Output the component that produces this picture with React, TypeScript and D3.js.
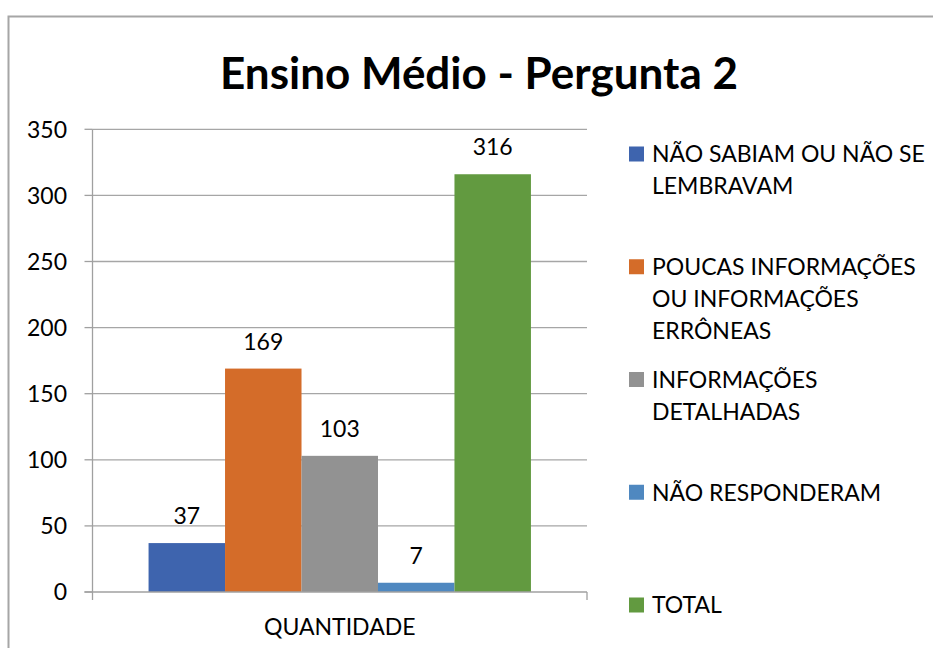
import React from "react";
import * as d3 from "d3";

const title = "Ensino Médio - Pergunta 2";
const category = "QUANTIDADE";
const seriesNames = [
  "NÃO SABIAM OU NÃO SE LEMBRAVAM",
  "POUCAS INFORMAÇÕES OU INFORMAÇÕES ERRÔNEAS",
  "INFORMAÇÕES DETALHADAS",
  "NÃO RESPONDERAM",
  "TOTAL",
];
const legendLines = [
  ["NÃO SABIAM OU NÃO SE", "LEMBRAVAM"],
  ["POUCAS INFORMAÇÕES", "OU INFORMAÇÕES", "ERRÔNEAS"],
  ["INFORMAÇÕES", "DETALHADAS"],
  ["NÃO RESPONDERAM"],
  ["TOTAL"],
];
const values = [37, 169, 103, 7, 316];
const colors = ["#3E64AE", "#D46C29", "#929292", "#4F88C0", "#629A40"];
const yTicks = [0, 50, 100, 150, 200, 250, 300, 350];

const W = 933;
const H = 648;
const FONT = "Lato, 'Open Sans', sans-serif";

export default function App() {
  const plotLeft = 92.5;
  const plotRight = 587;
  const plotTop = 129.3;
  const plotBottom = 592;

  const y = d3.scaleLinear().domain([0, 350]).range([plotBottom, plotTop]);
  const x0 = d3
    .scaleBand<string>()
    .domain([category])
    .range([plotLeft, plotRight])
    .paddingInner(0)
    .paddingOuter(0.1466);
  const x1 = d3
    .scaleBand<string>()
    .domain(seriesNames)
    .range([0, x0.bandwidth()])
    .padding(0);

  const legendY = d3.scaleLinear().domain([0, 4]).range([154, 605]);

  const grid = "#A6A6A6";
  const axis = "#A0A0A0";
  const fs = 23;

  return (
    <svg
      width={W}
      height={H}
      style={{ position: "absolute", left: 0, top: 0, background: "#fff" }}
      fontFamily={FONT}
    >
      <rect x={0} y={0} width={W} height={H} fill="#fff" />
      <rect
        x={8.5}
        y={16.5}
        width={1000}
        height={800}
        fill="#fff"
        stroke="#A6A6A6"
        strokeWidth={2}
      />
      <text
        x={479}
        y={89}
        textAnchor="middle"
        fontSize={44}
        fontWeight="bold"
        fill="#000"
      >
        {title}
      </text>

      {yTicks.map((t) => (
        <g key={t}>
          {t !== 0 && (
            <line
              x1={plotLeft}
              x2={plotRight}
              y1={y(t)}
              y2={y(t)}
              stroke={grid}
              strokeWidth={1.3}
            />
          )}
          <line
            x1={plotLeft - 8}
            x2={plotLeft}
            y1={y(t)}
            y2={y(t)}
            stroke={axis}
            strokeWidth={1.3}
          />
          <text
            x={67}
            y={y(t)}
            dy="0.36em"
            textAnchor="end"
            fontSize={fs}
            fill="#000"
          >
            {t}
          </text>
        </g>
      ))}

      {values.map((v, i) => {
        const bx = (x0(category) as number) + (x1(seriesNames[i]) as number);
        const bw = x1.bandwidth();
        return (
          <g key={i}>
            <rect
              x={bx}
              y={y(v)}
              width={bw}
              height={plotBottom - y(v)}
              fill={colors[i]}
            />
            <text
              x={bx + bw / 2}
              y={y(v) - 19}
              textAnchor="middle"
              fontSize={fs}
              fill="#000"
            >
              {v}
            </text>
          </g>
        );
      })}

      <line
        x1={plotLeft}
        x2={plotLeft}
        y1={plotTop}
        y2={plotBottom + 8}
        stroke={axis}
        strokeWidth={1.3}
      />
      <line
        x1={plotLeft - 8}
        x2={plotRight}
        y1={plotBottom}
        y2={plotBottom}
        stroke={axis}
        strokeWidth={1.3}
      />
      <line
        x1={plotRight}
        x2={plotRight}
        y1={plotBottom}
        y2={plotBottom + 8}
        stroke={axis}
        strokeWidth={1.3}
      />
      <text
        x={(plotLeft + plotRight) / 2}
        y={627}
        dy="0.36em"
        textAnchor="middle"
        fontSize={fs}
        fill="#000"
      >
        {category}
      </text>

      {legendLines.map((lines, i) => (
        <g key={i}>
          <rect
            x={629}
            y={legendY(i) - 7.5}
            width={15}
            height={15}
            fill={colors[i]}
          />
          {lines.map((ln, j) => (
            <text
              key={j}
              x={652}
              y={legendY(i) + j * 31.8}
              dy="0.36em"
              fontSize={fs}
              fill="#000"
            >
              {ln}
            </text>
          ))}
        </g>
      ))}
    </svg>
  );
}
